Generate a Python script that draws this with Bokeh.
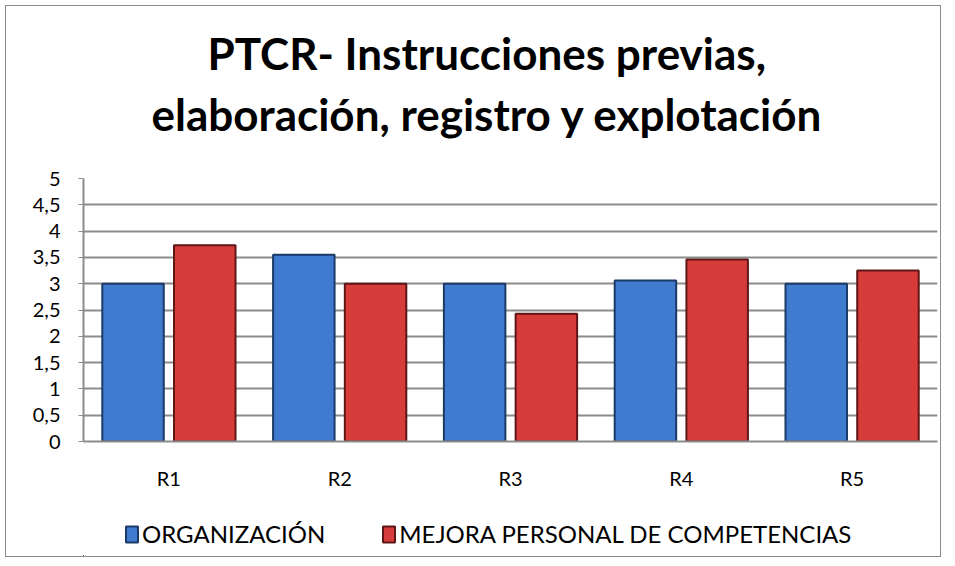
from bokeh.plotting import figure
from bokeh.models import ColumnDataSource, FixedTicker, Legend, LegendItem, Title
from bokeh.layouts import column
from bokeh.transform import dodge
from bokeh.embed import file_html
from bokeh.resources import INLINE

categories = ["R1", "R2", "R3", "R4", "R5"]
organizacion = [3.0, 3.55, 3.0, 3.06, 3.0]
mejora = [3.73, 3.0, 2.43, 3.46, 3.25]
series_names = ["ORGANIZACIÓN", "MEJORA PERSONAL DE COMPETENCIAS"]
title_lines = ["PTCR- Instrucciones previas,", "elaboración, registro y explotación"]
y_ticks = [0, 0.5, 1, 1.5, 2, 2.5, 3, 3.5, 4, 4.5, 5]

BLUE, BLUE_EDGE = "#3f7bcf", "#1c3a66"
RED, RED_EDGE = "#d63c3a", "#5e1616"
FONT = "Lato"

src = ColumnDataSource(dict(cat=categories, org=organizacion, mej=mejora))

p = figure(x_range=categories, y_range=(0, 5), width=934, height=500,
           output_backend="svg", toolbar_location=None,
           min_border_left=77, min_border_right=3, min_border_top=172, min_border_bottom=65)

spacer = Title(text=" ", text_font_size="1px", standoff=36)
t2 = Title(text=title_lines[1], align="left", offset=68,
           text_font=FONT, text_font_size="44px", text_font_style="bold", text_color="#000000",
           standoff=0)
t1 = Title(text=title_lines[0], align="left", offset=124,
           text_font=FONT, text_font_size="44px", text_font_style="bold", text_color="#000000",
           standoff=14)
p.title = None
p.add_layout(spacer, "above")
p.add_layout(t2, "above")
p.add_layout(t1, "above")

p.vbar(x=dodge("cat", -0.21, range=p.x_range), top="org", width=0.36, source=src,
       fill_color=BLUE, line_color=BLUE_EDGE, line_width=2)
p.vbar(x=dodge("cat", 0.21, range=p.x_range), top="mej", width=0.36, source=src,
       fill_color=RED, line_color=RED_EDGE, line_width=2)

p.yaxis.ticker = FixedTicker(ticks=y_ticks)
p.yaxis.major_label_overrides = {t: (str(t).replace(".", ",") if t % 1 else str(int(t))) for t in y_ticks}
p.ygrid.ticker = FixedTicker(ticks=y_ticks)
p.ygrid.grid_line_color = "#8c8c8c"
p.ygrid.grid_line_width = 2
p.xgrid.grid_line_color = None
p.outline_line_color = None

for ax in (p.xaxis, p.yaxis):
    ax.major_label_text_font = FONT
    ax.major_label_text_font_size = "20px"
    ax.major_label_text_color = "#000000"
    ax.axis_line_color = "#8c8c8c"
    ax.axis_line_width = 2
    ax.major_tick_line_color = "#8c8c8c"
    ax.minor_tick_line_color = None
p.yaxis.major_tick_out = 5
p.yaxis.major_tick_in = 0
p.yaxis.major_label_standoff = 18
p.xaxis.major_tick_line_color = None
p.xaxis.major_label_standoff = 18

# legend strip below the chart (its swatches come from the same data, kept out of view)
lg = figure(width=934, height=50, output_backend="svg", toolbar_location=None,
            x_range=(10, 11), y_range=(10, 11), x_axis_location=None, y_axis_location=None,
            min_border_left=0, min_border_right=0, min_border_top=0, min_border_bottom=0)
lg.grid.visible = False
lg.outline_line_color = None
k1 = lg.vbar(x="org", top="org", width=0.1, source=src, fill_color=BLUE, line_color=BLUE_EDGE, line_width=2)
k2 = lg.vbar(x="mej", top="mej", width=0.1, source=src, fill_color=RED, line_color=RED_EDGE, line_width=2)
legend = Legend(items=[LegendItem(label=series_names[0], renderers=[k1]),
                       LegendItem(label=series_names[1], renderers=[k2])],
                orientation="horizontal", location=(41, 8),
                label_text_font=FONT, label_text_font_size="24px", label_text_color="#000000",
                glyph_width=15, glyph_height=20, spacing=56,
                border_line_color=None, background_fill_alpha=0,
                margin=0, padding=0, label_standoff=3)
lg.add_layout(legend, "center")

layout = column(p, lg, spacing=0)
layout.styles = {"border": "1px solid #8c8c8c", "margin": "5px 0 0 5px"}

open("out.html", "w").write(file_html(layout, INLINE))
